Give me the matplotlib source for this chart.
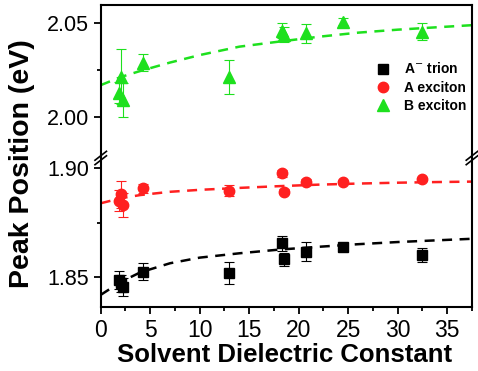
import matplotlib
matplotlib.use('Agg')
import matplotlib.pyplot as plt
from matplotlib.lines import Line2D

plt.rcParams['font.family'] = ['Liberation Sans', 'DejaVu Sans']

# measured points
eps = [1.8, 2.05, 2.3, 4.3, 13.0, 18.3, 18.5, 20.7, 24.5, 32.5]
trion = [1.8485, 1.8470, 1.8452, 1.8523, 1.8516, 1.8654, 1.8580, 1.8615, 1.8638, 1.8600]
trion_err = [0.0043, 0.004, 0.0041, 0.0038, 0.005, 0.0035, 0.003, 0.0043, 0.0012, 0.0034]
aexc = [1.8851, 1.8880, 1.8831, 1.8908, 1.8897, 1.8977, 1.8892, 1.8938, 1.8938, 1.8949]
aexc_err = [0.0047, 0.0063, 0.0054, 0.0022, 0.0025, 0.0015, 0.0012, 0.0015, 0.0008, 0.0008]
bexc = [2.0129, 2.0214, 2.0089, 2.0290, 2.0214, 2.0460, 2.0440, 2.0446, 2.0509, 2.0455]
bexc_err = [0.0058, 0.0147, 0.0089, 0.0045, 0.009, 0.004, 0.004, 0.005, 0.002, 0.0045]

# fit curves
fit_x = [0, 2, 4, 7, 10, 14, 18, 22, 26, 30, 34, 37.5]
fit_trion = [1.8416, 1.8475, 1.8520, 1.8562, 1.8588, 1.8608, 1.8625, 1.8638, 1.8650, 1.8660, 1.8668, 1.8675]
fit_aexc = [1.8839, 1.8862, 1.8877, 1.8892, 1.8901, 1.8910, 1.8918, 1.8925, 1.8930, 1.8934, 1.8937, 1.8939]
fit_bexc = [2.0169, 2.0212, 2.0245, 2.0290, 2.0330, 2.0375, 2.0402, 2.0428, 2.0450, 2.0466, 2.0479, 2.0490]

black = '#000000'
red = '#ff2020'
green = '#1ee01e'

fig = plt.figure(figsize=(4.78, 3.71), dpi=100)
ax_t = fig.add_axes([0.2107, 0.5741, 0.7767, 0.4124])
ax_b = fig.add_axes([0.2107, 0.1725, 0.7767, 0.4016])

ek = dict(elinewidth=0.8, capsize=3.5, capthick=0.8, linestyle='none')
ax_b.errorbar(eps, trion, yerr=trion_err, marker='s', ms=6.5, color=black, **ek)
ax_b.errorbar(eps, aexc, yerr=aexc_err, marker='o', ms=7.5, color=red, **ek)
ax_t.errorbar(eps, bexc, yerr=bexc_err, marker='^', ms=8, color=green, **ek)

dash = dict(lw=1.8, dashes=(4, 3))
ax_b.plot(fit_x, fit_trion, color=black, **dash)
ax_b.plot(fit_x, fit_aexc, color=red, **dash)
ax_t.plot(fit_x, fit_bexc, color=green, **dash)

ax_t.set_ylim(1.9779, 2.0598)
ax_b.set_ylim(1.836, 1.9048)
for ax in (ax_t, ax_b):
    ax.set_xlim(0, 37.5)
    for s in ax.spines.values():
        s.set_linewidth(1.5)
    ax.tick_params(direction='out', width=1.3, length=5, labelsize=15.5)
    ax.tick_params(which='minor', direction='out', width=1.3, length=3)
ax_t.spines['bottom'].set_visible(False)
ax_b.spines['top'].set_visible(False)
ax_t.tick_params(axis='x', which='both', bottom=False, labelbottom=False)
ax_b.tick_params(axis='x', labelsize=16.5)
ax_t.set_yticks([2.00, 2.05])
ax_t.set_yticks([2.025], minor=True)
ax_t.set_yticklabels(['2.00', '2.05'])
ax_b.set_yticks([1.85, 1.90])
ax_b.set_yticks([1.875], minor=True)
ax_b.set_yticklabels(['1.85', '1.90'])
ax_b.set_xticks(range(0, 36, 5))
ax_b.set_xticks([2.5 + 5 * i for i in range(8)], minor=True)

# break marks
yb = 0.5741
for xs in (0.2107, 0.9874):
    for off in (-0.006, 0.006):
        fig.add_artist(Line2D([xs - 0.012, xs + 0.012], [yb + off - 0.012, yb + off + 0.012],
                              color='black', lw=1.2, transform=fig.transFigure))

fig.text(0.046, 0.559, 'Peak Position (eV)', rotation=90, ha='center', va='center',
         fontsize=20.5, fontweight='bold')
fig.text(0.596, 0.012, 'Solvent Dielectric Constant', ha='center', va='bottom',
         fontsize=18.5, fontweight='bold')

handles = [Line2D([], [], marker='s', ls='none', color=black, ms=6.5),
           Line2D([], [], marker='o', ls='none', color=red, ms=7.5),
           Line2D([], [], marker='^', ls='none', color=green, ms=8)]
fig.legend(handles, ['A$^{-}$ trion', 'A exciton', 'B exciton'], loc='upper left',
           bbox_to_anchor=(0.757, 0.868), frameon=False,
           prop={'size': 10, 'weight': 'bold'},
           handlelength=1.2, handletextpad=0.9, labelspacing=0.3)

fig.savefig('out.png', dpi=100)
